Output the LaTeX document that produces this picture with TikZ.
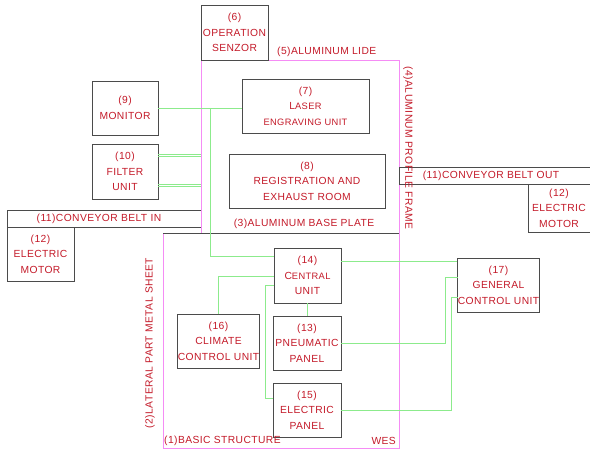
\documentclass[tikz,border=0pt]{standalone}
\usepackage{fontspec}
\setmainfont[LetterSpace=4]{Liberation Sans}
\definecolor{txtred}{RGB}{195,25,40}
\definecolor{boxgray}{RGB}{75,75,75}
\definecolor{framepink}{RGB}{245,140,245}
\definecolor{wiregreen}{RGB}{140,235,140}
\tikzset{
  unit/.style={draw=boxgray, line width=0.9pt, inner sep=0pt, align=center, text=txtred, font=\fontsize{10.3}{15.5}\selectfont},
  lbl/.style={text=txtred, inner sep=0pt, align=center, font=\fontsize{10.3}{15.5}\selectfont},
  wire/.style={draw=wiregreen, line width=0.7pt},
  framepk/.style={draw=framepink, line width=0.8pt},
  plate/.style={draw=boxgray, line width=0.9pt},
}
\newcommand{\smc}[1]{{\fontsize{9.3}{15.5}\selectfont #1}}
\begin{document}
\begin{tikzpicture}[x=1pt,y=-1pt]
\useasboundingbox (0,0) rectangle (590,450);
% frames
\draw[framepk] (201,233) -- (201,60) -- (399,60) -- (399,448) -- (163,448) -- (163,233);
\draw[plate] (163,233) -- (399,233);
% conveyor belt in
\draw[plate] (201,210) -- (7,210) -- (7,227) -- (201,227);
\node[lbl] (beltin) at (99,219) {(11)CONVEYOR BELT IN};
% conveyor belt out
\draw[plate] (590,167) -- (399,167) -- (399,184) -- (590,184);
\node[lbl] (beltout) at (491,176) {(11)CONVEYOR BELT OUT};
% electric motor right
\draw[plate] (528,184) -- (528,232) -- (590,232);
\node[lbl] (n12b) at (559,208) {(12)\\ELECTRIC\\MOTOR};
% boxes
\node[unit, minimum width=67, minimum height=55] (n6) at (234.5,32.5) {(6)\\OPERATION\\SENZOR};
\node[unit, minimum width=127, minimum height=54] (n7) at (305.5,106) {(7)\\L\smc{ASER}\\\smc{ENGRAVING UNIT}};
\node[unit, minimum width=156, minimum height=54] (n8) at (307,181) {(8)\\REGISTRATION AND\\EXHAUST ROOM};
\node[unit, minimum width=66, minimum height=54] (n9) at (125,108) {(9)\\MONITOR};
\node[unit, minimum width=66, minimum height=55] (n10) at (125,171.5) {(10)\\FILTER\\UNIT};
\node[unit, minimum width=67, minimum height=54] (n12a) at (40.5,254) {(12)\\ELECTRIC\\MOTOR};
\node[unit, minimum width=67, minimum height=55] (n14) at (307.5,275.5) {(14)\\C\smc{ENTRAL}\\UNIT};
\node[unit, minimum width=68, minimum height=54] (n13) at (307,343) {(13)\\PNEUMATIC\\PANEL};
\node[unit, minimum width=68, minimum height=54] (n15) at (307,410) {(15)\\ELECTRIC\\PANEL};
\node[unit, minimum width=81, minimum height=54] (n16) at (218.5,341) {(16)\\CLIMATE\\CONTROL UNIT};
\node[unit, minimum width=81, minimum height=54] (n17) at (498.5,285) {(17)\\GENERAL\\CONTROL UNIT};
% labels
\node[lbl, anchor=west] (l5) at (277,52) {(5)ALUMINUM LIDE};
\node[lbl] (l3) at (304,224) {(3)ALUMINUM BASE PLATE};
\node[lbl, rotate=-90] (l4) at (408,148) {(4)ALUMINUM PROFILE FRAME};
\node[lbl, rotate=90] (l2) at (150,343) {(2)LATERAL PART METAL SHEET};
\node[lbl, anchor=west] (l1) at (164,441) {(1)BASIC STRUCTURE};
\node[lbl, anchor=east] (lw) at (396,441) {WES};
% junction coordinates
\coordinate (j1) at (210,108);
\coordinate (c14a) at (274,256);
\coordinate (c14b) at (274,276);
\coordinate (c14c) at (274,285);
\coordinate (c14d) at (341,261);
\coordinate (c15a) at (273,398);
\coordinate (c17a) at (458,277);
\coordinate (c17b) at (458,297);
\coordinate (f1) at (158,154);
\coordinate (f2) at (158,156.5);
\coordinate (f3) at (158,184);
\coordinate (f4) at (158,186.5);
% wires
\draw[wire] (n9.east) -- (n9.east -| n7.west);
\draw[wire] (j1) |- (c14a);
\draw[wire] (n16.north) |- (c14b);
\draw[wire] (c14c) -- ++(-9,0) |- (c15a);
\draw[wire] (n14.south) -- (n14.south |- n13.north);
\draw[wire] (c14d) -- (c14d -| n17.west);
\draw[wire] (n13.east) -- ++(104,0) |- (c17a);
\draw[wire] (n15.east) -- ++(110,0) |- (c17b);
\draw[wire] (f1) -- ++(43,0);
\draw[wire] (f2) -- ++(43,0);
\draw[wire] (f3) -- ++(43,0);
\draw[wire] (f4) -- ++(43,0);
\end{tikzpicture}
\end{document}
